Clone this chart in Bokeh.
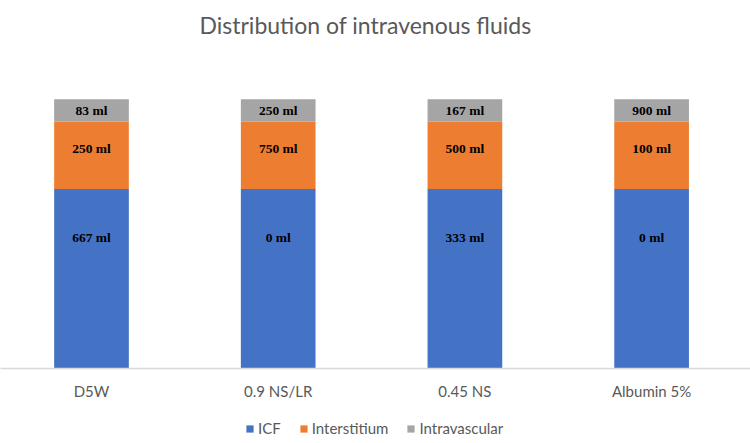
from bokeh.plotting import figure
from bokeh.layouts import column
from bokeh.models import ColumnDataSource, Range1d, FixedTicker, Legend, LegendItem
from bokeh.core.properties import value
from bokeh.embed import file_html
from bokeh.resources import INLINE

categories = ["D5W", "0.9 NS/LR", "0.45 NS", "Albumin 5%"]
series = ["ICF", "Interstitium", "Intravascular"]
# segment heights as drawn in the reference (ml)
icf = [667, 667, 667, 667]
interstitium = [250, 250, 250, 250]
intravascular = [83, 83, 83, 83]
# data-label texts as printed on the reference
icf_labels = ["667 ml", "0 ml", "333 ml", "0 ml"]
interstitium_labels = ["250 ml", "750 ml", "500 ml", "100 ml"]
intravascular_labels = ["83 ml", "250 ml", "167 ml", "900 ml"]
colors = ["#4472C4", "#ED7D31", "#A5A5A5"]

xs = list(range(len(categories)))
source = ColumnDataSource(dict(x=xs, ICF=icf, Interstitium=interstitium,
                               Intravascular=intravascular))

p = figure(frame_width=750, frame_height=323,
           x_range=Range1d(-0.4874, 3.5297), y_range=Range1d(0, 1200),
           output_backend="svg", toolbar_location=None,
           y_axis_location=None,
           min_border_left=0, min_border_right=0,
           min_border_top=45, min_border_bottom=0)

p.title.text = "Distribution of intravenous fluids"
p.title.align = "left"
p.title.offset = 199
p.title.standoff = 13
p.title.text_font = "Lato"
p.title.text_font_size = "23px"
p.title.text_font_style = "normal"
p.title.text_color = "#595959"

p.vbar_stack(series, x="x", width=0.4, color=colors, line_color=None, source=source)

# data labels
all_vals = [icf, interstitium, intravascular]
all_labels = [icf_labels, interstitium_labels, intravascular_labels]
label_shift = [-41, -7, 0]
base = [0] * len(categories)
for vals, labs, shift in zip(all_vals, all_labels, label_shift):
    centers = [b + v / 2 for b, v in zip(base, vals)]
    base = [b + v for b, v in zip(base, vals)]
    lsrc = ColumnDataSource(dict(x=xs, y=centers, text=labs))
    p.text(x="x", y="y", text="text", source=lsrc,
           text_font=value("Liberation Serif"), text_font_style="bold",
           text_font_size="13.5px", text_color="black",
           text_align="center", text_baseline="middle", y_offset=shift)

p.xgrid.visible = False
p.ygrid.visible = False
p.outline_line_color = None

ax = p.xaxis[0]
ax.ticker = FixedTicker(ticks=xs)
ax.major_label_overrides = {i: c for i, c in zip(xs, categories)}
ax.major_tick_line_color = None
ax.minor_tick_line_color = None
ax.axis_line_color = "#D9D9D9"
ax.axis_line_width = 1.5
ax.major_label_text_font = "Lato"
ax.major_label_text_font_size = "15px"
ax.major_label_text_color = "#595959"
ax.major_label_standoff = 7

# legend strip below the chart (its zero-width bars only feed the legend swatches)
pl = figure(width=750, height=42, x_range=Range1d(-0.4874, 3.5297),
            y_range=Range1d(-20, -10), output_backend="svg",
            toolbar_location=None, x_axis_location=None, y_axis_location=None,
            min_border=0)
pl.xgrid.visible = False
pl.ygrid.visible = False
pl.outline_line_color = None
legend_renderers = pl.vbar_stack(series, x="x", width=0, color=colors,
                                 line_color=None, source=source)
legend = Legend(items=[LegendItem(label=s, renderers=[r])
                       for s, r in zip(series, legend_renderers)],
                orientation="horizontal", location=(245, 6),
                glyph_width=9, glyph_height=9, label_standoff=4, spacing=18,
                label_height=20,
                label_text_font="Lato", label_text_font_size="15px",
                label_text_color="#595959", border_line_color=None,
                background_fill_alpha=0, padding=0, margin=0)
pl.add_layout(legend, "center")

layout = column(p, pl, spacing=0)
open("out.html", "w").write(file_html(layout, INLINE))
